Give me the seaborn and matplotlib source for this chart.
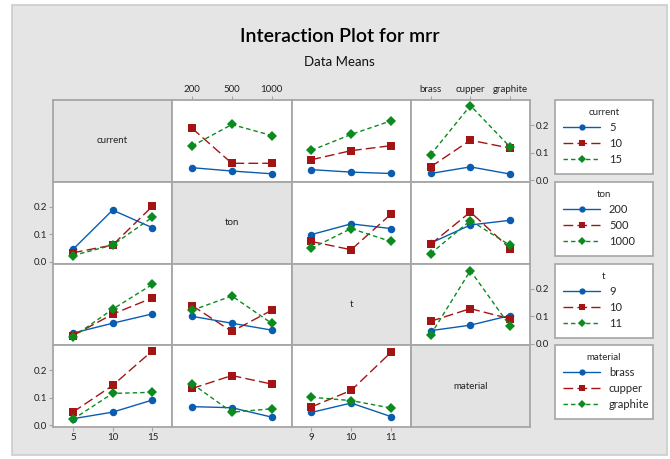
import matplotlib
matplotlib.use("Agg")
import matplotlib.pyplot as plt
from matplotlib.patches import Rectangle
from matplotlib.lines import Line2D
import numpy as np
import pandas as pd
import seaborn as sns

sns.set_theme(style="white")
plt.rcParams['font.family'] = ['Lato', 'DejaVu Sans']

# ---- data ----
factors = ['current', 'ton', 't', 'material']
current_levels = ['5', '10', '15']
ton_levels = ['200', '500', '1000']
t_levels = ['9', '10', '11']
material_levels = ['brass', 'cupper', 'graphite']
levels = {'current': current_levels, 'ton': ton_levels,
          't': t_levels, 'material': material_levels}

# mean mrr, rows = first factor levels, cols = second factor levels
means_current_ton = [[0.045, 0.033, 0.023],
                     [0.188, 0.061, 0.061],
                     [0.124, 0.202, 0.162]]
means_current_t = [[0.038, 0.029, 0.024],
                   [0.074, 0.107, 0.125],
                   [0.108, 0.166, 0.215]]
means_current_material = [[0.024, 0.048, 0.022],
                          [0.048, 0.145, 0.116],
                          [0.092, 0.271, 0.120]]
means_ton_t = [[0.099, 0.138, 0.121],
               [0.074, 0.044, 0.173],
               [0.049, 0.121, 0.074]]
means_ton_material = [[0.068, 0.134, 0.151],
                      [0.064, 0.181, 0.048],
                      [0.030, 0.150, 0.060]]
means_t_material = [[0.047, 0.067, 0.102],
                    [0.081, 0.127, 0.090],
                    [0.032, 0.265, 0.063]]

pair_means = {('current', 'ton'): means_current_ton,
              ('current', 't'): means_current_t,
              ('current', 'material'): means_current_material,
              ('ton', 't'): means_ton_t,
              ('ton', 'material'): means_ton_material,
              ('t', 'material'): means_t_material}

y_ticks = [0.0, 0.1, 0.2]
y_tick_labels = ['0.0', '0.1', '0.2']


def get_means(row_f, col_f):
    if (row_f, col_f) in pair_means:
        return np.array(pair_means[(row_f, col_f)])
    return np.array(pair_means[(col_f, row_f)]).T


# ---- styling ----
colors = ['#0a5cb0', '#a31515', '#0b8a20']
markers_list = ['o', 's', 'D']
dashes_list = ['', (7, 3), (3.2, 2.2)]
msizes = [5.0, 5.0, 4.6]
frame_col = '#a6a6a6'
bg_col = '#e5e5e5'

W, H = 670, 459
fig = plt.figure(figsize=(W / 100, H / 100), dpi=100)
fig.patch.set_facecolor('white')
fig.patches.append(Rectangle((12 / W, 4 / H), 655 / W, 450 / H,
                             transform=fig.transFigure, facecolor=bg_col,
                             edgecolor='#cccccc', linewidth=1.2, zorder=-10))

gs = fig.add_gridspec(4, 4, left=53 / W, right=530 / W, top=1 - 100 / H,
                      bottom=1 - 427 / H, wspace=0, hspace=0)

tick_fs = 7
for i, rf in enumerate(factors):
    for j, cf in enumerate(factors):
        ax = fig.add_subplot(gs[i, j])
        for s in ax.spines.values():
            s.set_color(frame_col)
            s.set_linewidth(1.3)
        if i == j:
            ax.set_facecolor('#e3e3e3')
            ax.text(0.5, 0.5, rf, transform=ax.transAxes, ha='center',
                    va='center', fontsize=7, color='#222222')
        else:
            ax.set_facecolor('white')
            m = get_means(rf, cf)
            rows = []
            for a, la in enumerate(levels[rf]):
                for b, lb in enumerate(levels[cf]):
                    rows.append({'x': b, 'y': m[a, b], 'grp': la})
            df = pd.DataFrame(rows)
            pal = dict(zip(levels[rf], colors))
            mk = dict(zip(levels[rf], markers_list))
            ds = dict(zip(levels[rf], dashes_list))
            sns.lineplot(data=df, x='x', y='y', hue='grp', style='grp',
                         hue_order=levels[rf], style_order=levels[rf],
                         palette=pal, markers=mk, dashes=ds, legend=False,
                         linewidth=1.0, markersize=5.4, markeredgewidth=0,
                         ax=ax, errorbar=None)
        ax.set_xlabel('')
        ax.set_ylabel('')
        ax.set_xlim(-0.5, 2.5)
        ax.set_ylim(-0.006, 0.291)
        ax.tick_params(axis='both', which='both', length=3, width=0.8,
                       color=frame_col, labelsize=tick_fs, labelcolor='#222222',
                       pad=1.5)
        # x ticks: top for cols 2 and 4, bottom for cols 1 and 3
        if (i == 0 and j in (1, 3)) or (i == 3 and j in (0, 2)):
            ax.set_xticks([0, 1, 2])
            ax.set_xticklabels(levels[cf])
            if i == 0:
                ax.tick_params(axis='x', bottom=False, labelbottom=False,
                               top=True, labeltop=True)
            else:
                ax.tick_params(axis='x', bottom=True, labelbottom=True,
                               top=False, labeltop=False)
        else:
            ax.set_xticks([])
        # y ticks: left for rows 2 and 4, right for rows 1 and 3
        if (j == 0 and i in (1, 3)) or (j == 3 and i in (0, 2)):
            ax.set_yticks(y_ticks)
            ax.set_yticklabels(y_tick_labels)
            if j == 0:
                ax.tick_params(axis='y', left=True, labelleft=True,
                               right=False, labelright=False)
            else:
                ax.tick_params(axis='y', left=False, labelleft=False,
                               right=True, labelright=True)
        else:
            ax.set_yticks([])

# legends
leg_tops = [100, 182, 264, 345]
for k, f in enumerate(factors):
    handles = [Line2D([0], [0], color=colors[n], marker=markers_list[n],
                      markersize=msizes[n] - 0.5, markeredgewidth=0,
                      linewidth=1.0,
                      linestyle='-' if n == 0 else (0, dashes_list[n]))
               for n in range(3)]
    leg = fig.legend(handles, levels[f], title=f, loc='upper left',
                     bbox_to_anchor=(555 / W, 1 - leg_tops[k] / H, 98 / W, 0),
                     mode='expand', fontsize=8, title_fontsize=7,
                     frameon=True, fancybox=False, edgecolor='#a6a6a6',
                     facecolor='white', framealpha=1, handlelength=3.3,
                     handletextpad=0.8, labelspacing=0.45, borderpad=0.75,
                     borderaxespad=0)
    leg.get_frame().set_linewidth(1.2)

fig.text(0.507, 1 - 37 / H, 'Interaction Plot for mrr', ha='center',
         va='center', fontsize=14, color='#000000', fontweight='semibold')
fig.text(0.507, 1 - 62 / H, 'Data Means', ha='center', va='center',
         fontsize=9.5, color='#111111')

fig.savefig('out.png', dpi=100)
